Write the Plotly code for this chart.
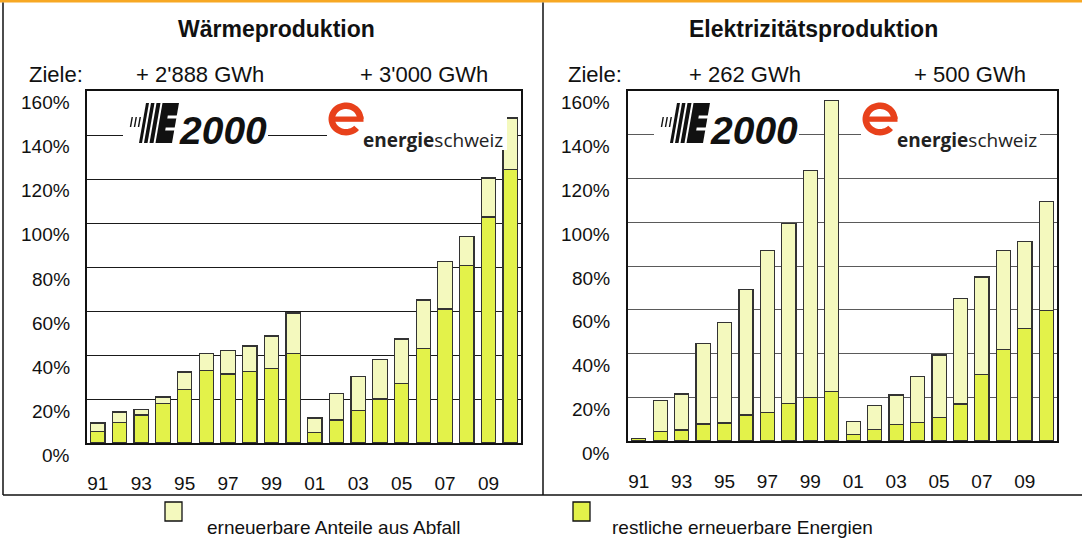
import math
import plotly.graph_objects as go

W, H = 1082, 539
FONT = "Liberation Sans, Arial, sans-serif"

# ---- data -------------------------------------------------------------
years = list(range(1991, 2011))
tick_years = years[::2]
tick_labels = ["91", "93", "95", "97", "99", "01", "03", "05", "07", "09"]
y_ticks = [0, 20, 40, 60, 80, 100, 120, 140, 160]

# Wärmeproduktion, % of target
heat_rest = [5.3, 9.4, 12.7, 17.9, 24.2, 32.9, 31.4, 32.4, 33.9, 40.6,
             4.7, 10.5, 14.7, 20.0, 27.1, 42.9, 60.9, 80.7, 102.7, 124.5]
heat_waste = [3.8, 4.7, 2.5, 3.0, 8.1, 7.7, 10.6, 11.7, 14.7, 18.5,
              6.7, 11.9, 15.5, 18.0, 20.2, 22.1, 21.6, 13.2, 17.8, 23.2]

# Elektrizitätsproduktion, % of target
elec_rest = [1.2, 4.3, 5.0, 7.8, 8.2, 11.9, 13.1, 17.2, 19.8, 22.7,
             2.9, 5.3, 7.5, 8.4, 10.7, 16.9, 30.3, 41.7, 51.3, 59.8]
elec_waste = [0.0, 14.3, 16.5, 36.8, 46.0, 57.4, 74.0, 82.2, 103.8, 132.9,
              6.1, 11.0, 13.5, 21.0, 28.6, 48.2, 44.7, 45.4, 39.9, 49.6]

series_names = ["restliche erneuerbare Energien", "erneuerbare Anteile aus Abfall"]
COL_REST = "#E3F24A"
COL_WASTE = "#F4F9BE"
OUTLINE = "#333333"

# ---- panel geometry (pixels) -----------------------------------------
panels = [
    dict(xa="x", ya="y", x0=87, x1=521, ytop=91, ybot=443, lab_r=72,
         grid="#1a1a1a", title="Wärmeproduktion", tcx=276,
         goals=["+ 2'888 GWh", "+ 3'000 GWh"], gcx=[200, 424], zx=27,
         logo=(127, 103), ecx=346, etx=361, ebg=507,
         rest=heat_rest, waste=heat_waste),
    dict(xa="x2", ya="y2", x0=628, x1=1057, ytop=91, ybot=441, lab_r=612,
         grid="#5a5a5a", title="Elektrizitätsproduktion", tcx=813,
         goals=["+ 262 GWh", "+ 500 GWh"], gcx=[745, 970], zx=566,
         logo=(658, 103), ecx=880, etx=895, ebg=1040,
         rest=elec_rest, waste=elec_waste),
]


def px(x):
    return x / W


def py(y):
    return 1 - y / H


def path(pts):
    return "M " + " L ".join(f"{px(x):.5f},{py(y):.5f}" for x, y in pts) + " Z"


fig = go.Figure()
shapes = []
annotations = []
layout_axes = {}

for i, p in enumerate(panels):
    fig.add_trace(go.Bar(x=years, y=p["rest"], name=series_names[0], width=0.66,
                         marker=dict(color=COL_REST, line=dict(color=OUTLINE, width=1.2)),
                         xaxis=p["xa"], yaxis=p["ya"], showlegend=False))
    fig.add_trace(go.Bar(x=years, y=p["waste"], name=series_names[1], width=0.66,
                         marker=dict(color=COL_WASTE, line=dict(color=OUTLINE, width=1.2)),
                         xaxis=p["xa"], yaxis=p["ya"], showlegend=False))

    xkey = "xaxis" if p["xa"] == "x" else "xaxis2"
    ykey = "yaxis" if p["ya"] == "y" else "yaxis2"
    layout_axes[xkey] = dict(
        domain=[px(p["x0"]), px(p["x1"])], anchor=p["ya"], range=[1990.5, 2010.5],
        tickmode="array", tickvals=tick_years, ticktext=tick_labels, ticks="",
        ticklabelstandoff=22, tickfont=dict(family=FONT, size=19, color="#111"),
        showgrid=False, zeroline=False, showline=True, mirror=True,
        linecolor="#111", linewidth=1.5, fixedrange=True)
    layout_axes[ykey] = dict(
        domain=[py(p["ybot"]), py(p["ytop"])], anchor=p["xa"], range=[0, 160],
        tickmode="array", tickvals=y_ticks, showticklabels=False, ticks="",
        showgrid=True, gridcolor=p["grid"], gridwidth=1, zeroline=False,
        showline=True, mirror=True, linecolor="#111", linewidth=1.5, fixedrange=True)

    # y tick labels sit a little below their gridlines
    for v in y_ticks:
        annotations.append(dict(x=px(p["lab_r"]), xref="paper", y=v, yref=p["ya"],
                                yshift=-12, xanchor="right", yanchor="middle",
                                text=f"{v}%", showarrow=False,
                                font=dict(family=FONT, size=19, color="#111")))

    # titles and goals
    annotations.append(dict(x=px(p["tcx"]), y=py(29), xref="paper", yref="paper",
                            text=f"<b>{p['title']}</b>", showarrow=False,
                            xanchor="center", yanchor="middle",
                            font=dict(family=FONT, size=23, color="#111")))
    annotations.append(dict(x=px(p["zx"]), y=py(75), xref="paper", yref="paper",
                            text="Ziele:", showarrow=False, xanchor="left", yanchor="middle",
                            font=dict(family=FONT, size=22, color="#111")))
    for g, cx in zip(p["goals"], p["gcx"]):
        annotations.append(dict(x=px(cx), y=py(75), xref="paper", yref="paper",
                                text=g, showarrow=False, xanchor="center", yanchor="middle",
                                font=dict(family=FONT, size=22, color="#111")))

    # white backing for the logos (hides the 140% gridline behind them)
    ox, oy = p["logo"]
    for bx0, bx1 in [(ox - 4, ox + 141), (p["ecx"] - 19, p["ebg"])]:
        shapes.append(dict(type="rect", xref="paper", yref="paper",
                           x0=px(bx0), x1=px(bx1), y0=py(150), y1=py(99),
                           fillcolor="white", line=dict(width=0), layer="above"))

    # E2000 mark: slanted stripes forming an "E"
    s = 7.0

    def sl(x, y, ox=ox, oy=oy):
        return (ox + x + s * (40 - y) / 40, oy + y)

    def bar(xa, xb, ya, yb, color="#111"):
        shapes.append(dict(type="path", xref="paper", yref="paper",
                           path=path([sl(xa, yb), sl(xb, yb), sl(xb, ya), sl(xa, ya)]),
                           fillcolor=color, line=dict(width=0), layer="above"))

    for tx in (0, 4, 8):
        bar(tx, tx + 1.4, 14, 24)
    for xa, xb in [(12, 15), (17, 20.5), (22.5, 26.5)]:
        bar(xa, xb, 0, 40)
    bar(28.5, 45, 0, 40)
    bar(36, 46, 12.5, 15.5, "white")
    bar(36, 46, 24.5, 27.5, "white")
    annotations.append(dict(x=px(ox + 50), y=py(oy + 27), xref="paper", yref="paper",
                            text="<b><i>2000</i></b>", showarrow=False,
                            xanchor="left", yanchor="middle",
                            font=dict(family=FONT, size=39, color="#111")))

    # energie schweiz mark: red "e" swoosh
    cx, cy, rx, ry, t = p["ecx"], 119.0, 17.5, 16.5, 6.5
    outer, inner = [], []
    n = 40
    for k in range(n + 1):
        a = math.radians(0 - 318 * k / n)
        outer.append((cx + rx * math.cos(a), cy + ry * math.sin(a)))
        inner.append((cx + (rx - t) * math.cos(a), cy + (ry - t) * math.sin(a)))
    shapes.append(dict(type="path", xref="paper", yref="paper",
                       path=path(outer + inner[::-1]), fillcolor="#E8411B",
                       line=dict(width=0), layer="above"))
    shapes.append(dict(type="path", xref="paper", yref="paper",
                       path=path([(cx - rx + t - 1, cy - 2.5), (cx + rx, cy - 2.5),
                                  (cx + rx, cy + 2.8), (cx - rx + t - 1, cy + 2.8)]),
                       fillcolor="#E8411B", line=dict(width=0), layer="above"))
    annotations.append(dict(x=px(p["etx"]), y=py(140), xref="paper", yref="paper",
                            text="<b>energie</b>schweiz", showarrow=False,
                            xanchor="left", yanchor="middle",
                            font=dict(family="Open Sans, sans-serif", size=19, color="#222")))

# ---- frame --------------------------------------------------------------
shapes += [
    dict(type="rect", xref="paper", yref="paper", x0=0, x1=1, y0=py(2.5), y1=1,
         fillcolor="#F7A823", line=dict(width=0), layer="above"),
    dict(type="line", xref="paper", yref="paper", x0=px(3), x1=px(3), y0=py(2.5), y1=py(495),
         line=dict(color="#111", width=1.5), layer="above"),
    dict(type="line", xref="paper", yref="paper", x0=px(543), x1=px(543), y0=py(2.5), y1=py(495),
         line=dict(color="#111", width=1.5), layer="above"),
    dict(type="line", xref="paper", yref="paper", x0=px(3), x1=1, y0=py(495), y1=py(495),
         line=dict(color="#111", width=1.5), layer="above"),
]

# ---- legend -------------------------------------------------------------
for (bx, tx, col, name) in [(165, 205, COL_WASTE, series_names[1]),
                            (573, 610, COL_REST, series_names[0])]:
    shapes.append(dict(type="rect", xref="paper", yref="paper",
                       x0=px(bx), x1=px(bx + 17), y0=py(521), y1=py(502),
                       fillcolor=col, line=dict(color="#111", width=1.3), layer="above"))
    annotations.append(dict(x=px(tx), y=py(527), xref="paper", yref="paper",
                            text=name, showarrow=False, xanchor="left", yanchor="middle",
                            font=dict(family=FONT, size=19, color="#111")))

fig.update_layout(
    width=W, height=H, margin=dict(l=0, r=0, t=0, b=0),
    paper_bgcolor="white", plot_bgcolor="white",
    barmode="stack", bargap=0.3, showlegend=False,
    shapes=shapes, annotations=annotations,
    font=dict(family=FONT, color="#111"),
    **layout_axes,
)

fig.write_html("out.html", config={"displayModeBar": False})
